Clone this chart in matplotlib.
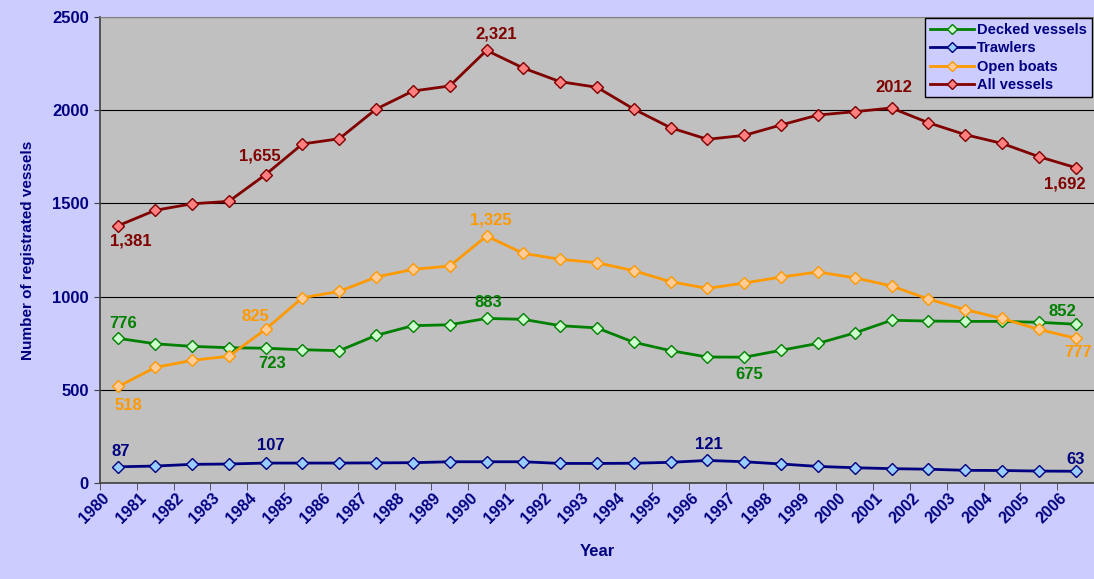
import numpy as np
import matplotlib
matplotlib.use("Agg")
import matplotlib.pyplot as plt
import matplotlib.transforms as mtransforms

plt.rcParams['font.family'] = ['Liberation Sans', 'DejaVu Sans']

years = list(range(1980, 2007))
decked = [776, 747, 733, 726, 723, 715, 710, 792, 844, 849, 883, 878, 844, 832,
          755, 710, 676, 675, 712, 749, 805, 873, 869, 867, 867, 862, 852]
trawlers = [87, 91, 100, 102, 107, 107, 107, 108, 109, 114, 114, 114, 105, 105,
            106, 111, 121, 114, 102, 89, 82, 77, 74, 68, 67, 64, 63]
open_boats = [518, 620, 658, 680, 825, 994, 1028, 1105, 1146, 1164, 1325, 1232, 1200, 1182,
              1139, 1080, 1044, 1073, 1105, 1132, 1101, 1057, 987, 930, 883, 824, 777]
all_vessels = [1381, 1463, 1498, 1511, 1655, 1819, 1847, 2006, 2103, 2130, 2321, 2226, 2153, 2123,
               2006, 1906, 1844, 1865, 1921, 1974, 1992, 2012, 1933, 1869, 1822, 1751, 1692]

NAVY = '#000080'
series = [
    ("Decked vessels", decked, '#008000', '#CCFFCC'),
    ("Trawlers", trawlers, '#000080', '#99CCFF'),
    ("Open boats", open_boats, '#FF9900', '#FFCC99'),
    ("All vessels", all_vessels, '#800000', '#FF8080'),
]

# (series index, year, label text, dx px, dy px)
labels = [
    (3, 1980, "1,381", 12, -15), (3, 1984, "1,655", -6, 19), (3, 1990, "2,321", 10, 16),
    (3, 2001, "2012", 2, 20), (3, 2006, "1,692", -11, -16),
    (0, 1980, "776", 5, 15), (0, 1984, "723", 6, -15), (0, 1990, "883", 2, 16),
    (0, 1997, "675", 5, -17), (0, 2006, "852", -13, 13),
    (2, 1980, "518", 10, -19), (2, 1984, "825", -10, 13), (2, 1990, "1,325", 4, 16),
    (2, 2006, "777", 3, -14),
    (1, 1980, "87", 2, 15), (1, 1984, "107", 5, 18), (1, 1996, "121", 1, 16),
    (1, 2006, "63", 0, 12),
]

fig = plt.figure(figsize=(10.94, 5.79), dpi=100)
fig.patch.set_facecolor('#CCCCFF')
ax = fig.add_axes([0.0914, 0.1658, 0.9086, 0.8048])
ax.set_facecolor('#C0C0C0')

x = np.arange(len(years))
for name, vals, col, face in series:
    ax.plot(x, vals, color=col, lw=2, marker='D', ms=6, mfc=face, mec=col, mew=1,
            label=name, zorder=3)

for si, yr, txt, dx, dy in labels:
    i = years.index(yr)
    ax.annotate(txt, (i, series[si][1][i]), xytext=(dx * 0.72, dy * 0.72),
                textcoords='offset points', ha='center', va='center',
                fontsize=12, fontweight='bold', color=series[si][2], zorder=4)

ax.set_xlim(-0.5, len(years) - 0.5)
ax.set_ylim(0, 2500)
ax.set_yticks(range(0, 2501, 500))
ax.yaxis.grid(True, color='black', lw=0.8)
ax.set_axisbelow(True)

ax.set_xticks(x)
ax.set_xticklabels([str(y) for y in years], rotation=45, ha='right')
ax.set_xticks(np.arange(-0.5, len(years)), minor=True)
ax.tick_params(axis='x', which='major', length=0, pad=5)
ax.tick_params(axis='x', which='minor', length=5, color='#404040')
ax.tick_params(axis='y', length=4, color='#404040', pad=4)
shift = mtransforms.ScaledTranslation(-6 / 100, 0, fig.dpi_scale_trans)
for lab in ax.get_xticklabels():
    lab.set_transform(lab.get_transform() + shift)
    lab.set_fontsize(11.5)
for lab in ax.get_yticklabels():
    lab.set_fontsize(12)
for lab in ax.get_xticklabels() + ax.get_yticklabels():
    lab.set_fontweight('bold')
    lab.set_color(NAVY)

for s in ['left', 'bottom']:
    ax.spines[s].set_color('#404040')
    ax.spines[s].set_linewidth(1.2)
ax.spines['top'].set_color('#808080')
ax.spines['right'].set_visible(False)

ax.set_xlabel("Year", fontsize=12, fontweight='bold', color=NAVY, labelpad=13)
ax.set_ylabel("Number of registrated vessels", fontsize=11, fontweight='bold', color=NAVY,
              labelpad=12)

leg = ax.legend(loc='upper right', bbox_to_anchor=(0.9975, 0.998), fontsize=10.5,
                frameon=True, fancybox=False, edgecolor='black', facecolor='#CCCCFF',
                borderpad=0.35, labelspacing=0.3, handlelength=3.0, handletextpad=0.2,
                borderaxespad=0)
leg.get_frame().set_alpha(1)
leg.get_frame().set_linewidth(1)
for t in leg.get_texts():
    t.set_fontweight('bold')
    t.set_color(NAVY)
for h in leg.legend_handles:
    h.set_markersize(5)

fig.savefig("out.png", dpi=100, facecolor=fig.get_facecolor())
